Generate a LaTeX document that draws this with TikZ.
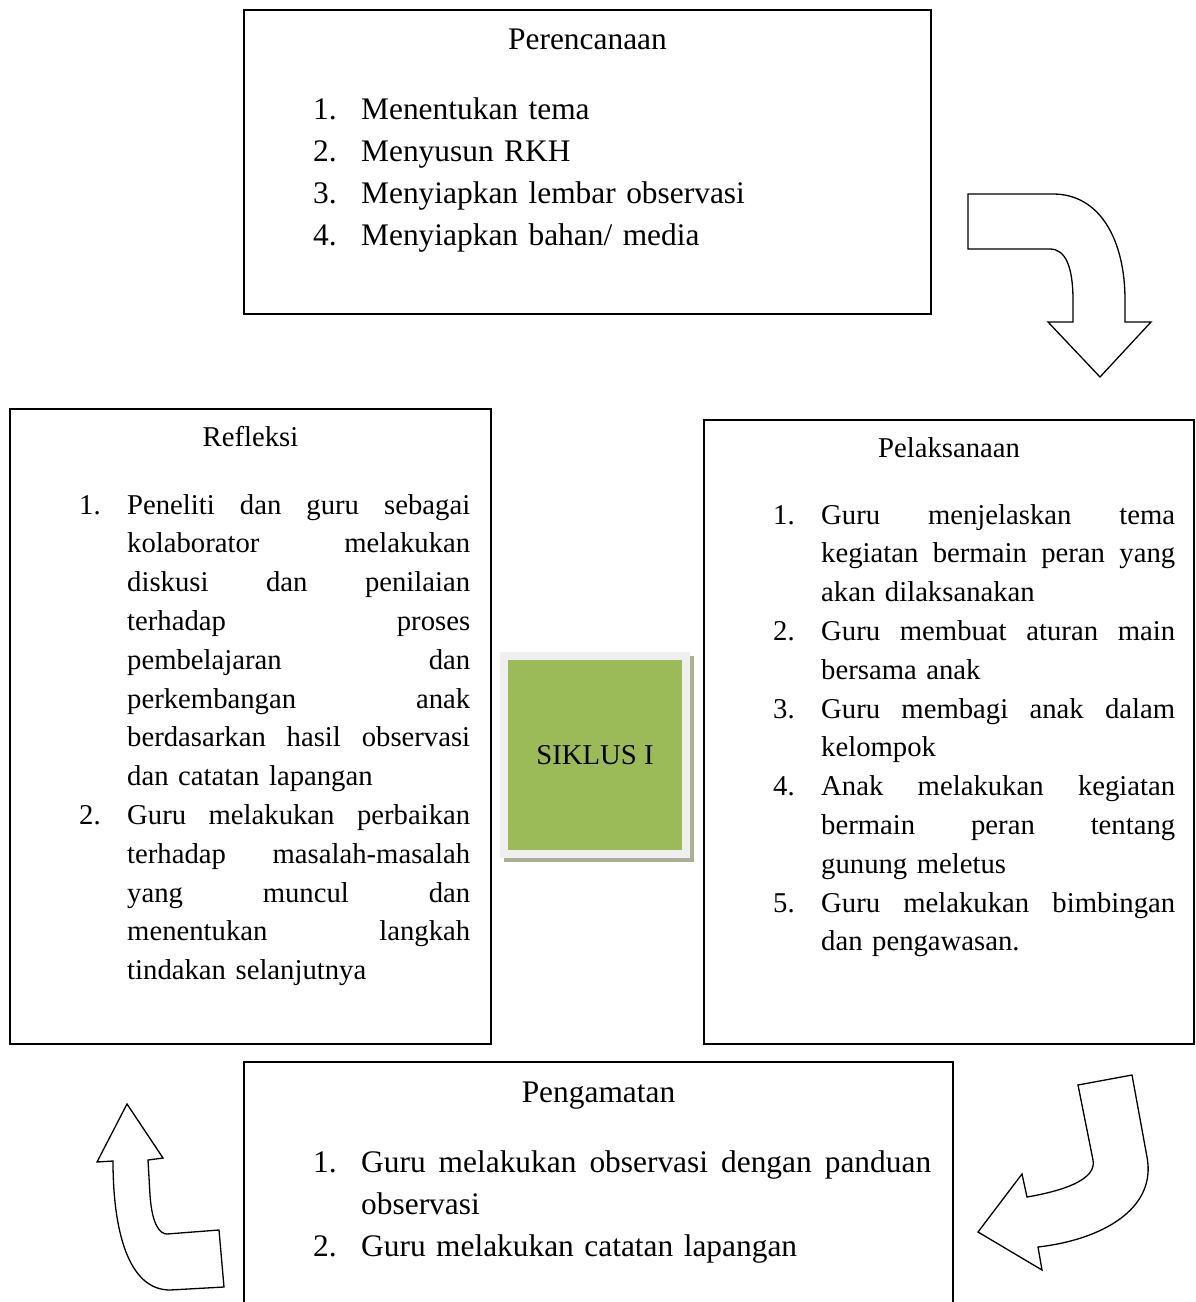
\documentclass[tikz,border=0pt]{standalone}
\usepackage{fontspec}
\setmainfont{Liberation Serif}
\usetikzlibrary{positioning}

\definecolor{sikgreen}{HTML}{9BBB59}
\definecolor{framegray}{HTML}{EFEFEF}
\definecolor{shadowgray}{HTML}{A8AF95}

\newlength\numw \setlength\numw{48pt}
\newlength\colw
\newcommand\fullln[2]{\hbox{\makebox[\numw][l]{#1}\hbox to\colw{\spaceskip=.25em plus 1fil\relax #2}}}
\newcommand\lastln[2]{\hbox{\makebox[\numw][l]{#1}\makebox[\colw][l]{#2}}}

\tikzset{
  box/.style={draw, line width=1.3pt, inner sep=0pt},
  headtxt/.style={anchor=base, inner sep=0pt},
  listtxt/.style={anchor=base west, inner sep=0pt, text width=640pt},
  bigfont/.style={font=\fontsize{31.4}{42}\selectfont},
  smallfont/.style={font=\fontsize{28.7}{38.8}\selectfont},
  blockarrow/.style={draw, fill=white, line width=1.3pt, line join=miter}
}

\begin{document}
\begin{tikzpicture}[x=1pt, y=-1pt]
  \useasboundingbox (0,0) rectangle (1195,1302);

  % boxes
  \node[box, minimum width=687pt, minimum height=304pt] (plan) at (587.5,162) {};
  \node[box, minimum width=481pt, minimum height=635pt] (refl) at (250.5,726.5) {};
  \node[box, minimum width=490pt, minimum height=624pt] (impl) at (949,732) {};
  \node[box, minimum width=709pt, minimum height=258pt] (obs) at (598.5,1191) {};

  % Perencanaan
  \node[headtxt, bigfont] (planhead) at (587.5,49) {Perencanaan};
  \node[listtxt, bigfont] (planlist) at (313,119) {\setlength\colw{400pt}%
    \lastln{1.}{Menentukan tema}
    \lastln{2.}{Menyusun RKH}
    \lastln{3.}{Menyiapkan lembar observasi}
    \lastln{4.}{Menyiapkan bahan/ media}};

  % Refleksi
  \node[headtxt, smallfont] (reflhead) at (250.5,446) {Refleksi};
  \node[listtxt, smallfont] (refllist) at (79,514) {\setlength\colw{343pt}%
    \fullln{1.}{Peneliti dan guru sebagai}
    \fullln{}{kolaborator melakukan}
    \fullln{}{diskusi dan penilaian}
    \fullln{}{terhadap proses}
    \fullln{}{pembelajaran dan}
    \fullln{}{perkembangan anak}
    \fullln{}{berdasarkan hasil observasi}
    \lastln{}{dan catatan lapangan}
    \fullln{2.}{Guru melakukan perbaikan}
    \fullln{}{terhadap masalah-masalah}
    \fullln{}{yang muncul dan}
    \fullln{}{menentukan langkah}
    \lastln{}{tindakan selanjutnya}};

  % Pelaksanaan
  \node[headtxt, smallfont] (implhead) at (949,457) {Pelaksanaan};
  \node[listtxt, smallfont] (impllist) at (773,524) {\setlength\colw{354pt}%
    \fullln{1.}{Guru menjelaskan tema}
    \fullln{}{kegiatan bermain peran yang}
    \lastln{}{akan dilaksanakan}
    \fullln{2.}{Guru membuat aturan main}
    \lastln{}{bersama anak}
    \fullln{3.}{Guru membagi anak dalam}
    \lastln{}{kelompok}
    \fullln{4.}{Anak melakukan kegiatan}
    \fullln{}{bermain peran tentang}
    \lastln{}{gunung meletus}
    \fullln{5.}{Guru melakukan bimbingan}
    \lastln{}{dan pengawasan.}};

  % Pengamatan
  \node[headtxt, bigfont] (obshead) at (598.5,1102) {Pengamatan};
  \node[listtxt, bigfont] (obslist) at (313,1172) {\setlength\colw{570pt}%
    \fullln{1.}{Guru melakukan observasi dengan panduan}
    \lastln{}{observasi}
    \lastln{2.}{Guru melakukan catatan lapangan}};

  % centre
  \fill[shadowgray] (504,656) rectangle (694,862);
  \node[fill=sikgreen, draw=framegray, line width=8pt, minimum width=182pt,
    minimum height=198pt, inner sep=0pt, smallfont] (siklus) at (595,755) {SIKLUS I};

  % curved arrows
  \draw[blockarrow] (968,194) -- (1053,194)
    .. controls (1100,194) and (1125,240) .. (1125,300) -- (1125,322)
    -- (1151,322) -- (1100,377) -- (1048,322) -- (1073,322) -- (1073,300)
    .. controls (1073,268) and (1066,249) .. (1050,249) -- (968,249) -- cycle;
  \draw[blockarrow] (1078,1085) -- (1132,1075) -- (1147,1157)
    .. controls (1157,1210) and (1100,1240) .. (1038,1247)
    -- (1042,1270) -- (978,1232) -- (1022,1174) -- (1027,1197)
    .. controls (1062,1191) and (1097,1180) .. (1093,1160) -- cycle;
  \draw[blockarrow] (127,1104) -- (163,1158) -- (148,1160) -- (150,1195)
    .. controls (152,1225) and (160,1234) .. (167,1234)
    -- (219,1230) -- (224,1287) -- (170,1290)
    .. controls (128,1290) and (113,1230) .. (113,1161) -- (97,1162) -- cycle;
\end{tikzpicture}
\end{document}
